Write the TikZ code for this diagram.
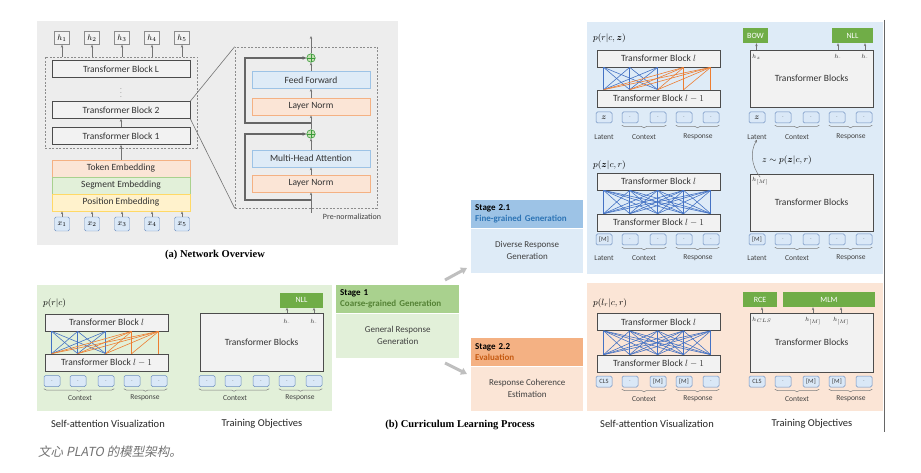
\documentclass[tikz,border=0pt]{standalone}
\usepackage{amsmath}
\usepackage{fontspec}
\setmainfont{Carlito}
\newfontfamily\capfont{Liberation Serif}
\newfontfamily\cjkfont[FakeSlant=0.2]{Noto Sans CJK SC}
\usetikzlibrary{positioning, calc, arrows.meta, decorations.pathreplacing}

\definecolor{panelgray}{HTML}{EDEDED}
\definecolor{panelgreen}{HTML}{E2F0D9}
\definecolor{panelblue}{HTML}{DEEBF7}
\definecolor{panelorange}{HTML}{FBE5D6}
\definecolor{headgreen}{HTML}{A9D18E}
\definecolor{headblue}{HTML}{9DC3E6}
\definecolor{headorange}{HTML}{F4B183}
\definecolor{txtgreen}{HTML}{548235}
\definecolor{txtblue}{HTML}{2E75B6}
\definecolor{txtorange}{HTML}{C55A11}
\definecolor{lossgreen}{HTML}{70AD47}
\definecolor{attblue}{HTML}{4472C4}
\definecolor{attorange}{HTML}{ED7D31}
\definecolor{tokfill}{HTML}{DAE8F7}
\definecolor{tokline}{HTML}{6C8EBF}
\definecolor{blockfill}{HTML}{F2F2F2}
\definecolor{posfill}{HTML}{FFF2CC}
\definecolor{posline}{HTML}{FFD966}
\definecolor{plusgreen}{HTML}{3A9A3A}
\definecolor{plusfill}{HTML}{C6E0B4}

\tikzset{
  block/.style={draw=black!70, fill=blockfill, line width=0.7pt, minimum width=123pt, minimum height=17pt, inner sep=0pt, text=black!80, font=\fontsize{9.5}{11}\selectfont},
  bigblock/.style={block, minimum width=138pt},
  objbox/.style={block, minimum height=57pt},
  emb/.style={line width=0.6pt, minimum width=138pt, minimum height=17pt, inner sep=0pt, text=black!80, font=\fontsize{9.5}{11}\selectfont},
  normbox/.style={emb, minimum width=118pt},
  hbox/.style={draw=black!45, fill=blockfill, minimum width=15pt, minimum height=13pt, inner sep=0pt, font=\fontsize{8}{8}\selectfont},
  xbox/.style={draw=tokline, fill=tokfill, rounded corners=1.5pt, minimum width=15pt, minimum height=14pt, inner sep=0pt, font=\fontsize{8}{8}\selectfont},
  tok/.style={draw=tokline, fill=tokfill, rounded corners=1.5pt, line width=0.5pt, minimum width=16pt, minimum height=11pt, inner sep=0pt, text=black!75, font=\fontsize{6.5}{7}\selectfont},
  loss/.style={fill=lossgreen, minimum height=15pt, inner sep=0pt, text=white, font=\fontsize{8}{9}\selectfont},
  hlab/.style={inner sep=0pt, text=black!80, font=\fontsize{6}{6}\selectfont},
  plab/.style={anchor=west, inner sep=0pt, font=\fontsize{9}{10}\selectfont},
  lbl/.style={inner sep=0pt, text=black!75, font=\fontsize{7.5}{8}\selectfont},
  coltitle/.style={inner sep=0pt, text=black!85, font=\fontsize{10.5}{12}\selectfont},
  captxt/.style={inner sep=0pt, font=\capfont\bfseries\fontsize{10.5}{12}\selectfont},
  arr/.style={->, draw=black!55, line width=0.5pt},
  attb/.style={draw=attblue, line width=0.6pt},
  atto/.style={draw=attorange, line width=0.6pt},
  brc/.style={draw=black!50, line width=0.5pt, decorate, decoration={brace, mirror, amplitude=2.5pt}},
  dashbox/.style={draw=black!45, dash pattern=on 2pt off 1.5pt, line width=0.6pt, inner sep=0pt},
  zoomline/.style={draw=black!55, line width=0.6pt},
  resid/.style={-{Stealth[length=4pt,width=3.5pt]}, draw=black!60, line width=1.1pt},
  plus/.style={circle, draw=plusgreen, fill=plusfill, line width=0.6pt, minimum size=8.5pt, inner sep=0pt,
    path picture={\draw[plusgreen, line width=0.6pt] (path picture bounding box.north) -- (path picture bounding box.south)
      (path picture bounding box.west) -- (path picture bounding box.east);}},
  stagehead/.style={anchor=north west, minimum height=28pt, inner xsep=4pt, inner ysep=0pt, align=left, font=\bfseries\fontsize{9}{11}\selectfont},
  stagebody/.style={minimum height=44pt, inner sep=0pt, align=center, text=black!75, font=\fontsize{9}{12}\selectfont},
  stagearrow/.style={-{Triangle[length=6pt,width=7pt]}, draw=black!25, line width=3pt},
}

\begin{document}
\begin{tikzpicture}[x=1pt, y=-1pt, >={Stealth[length=3pt,width=2.4pt]}]
    \fill[white] (0,0) rectangle (921,473);
    \useasboundingbox (0,0) rectangle (921,473);

    % (a) Network Overview
    \fill[panelgray] (37,21) rectangle (398,245);
    \node[dashbox, minimum width=152pt, minimum height=91pt] (stack) at (121,102.5) {};
    \node[bigblock] (tbL) at (121,69) {Transformer Block L};
    \node[inner sep=0pt, text=black!50, font=\fontsize{7}{7}\selectfont] (dots) at (121,90) {$\vdots$};
    \node[bigblock] (tb2) at (121,110) {Transformer Block 2};
    \node[bigblock] (tb1) at (121,136) {Transformer Block 1};
    \draw[arr] (tb1) -- (tb2);
    \node[emb, fill=panelorange, draw=headorange] (tokemb) at (121,168.5) {Token Embedding};
    \node[emb, fill=panelgreen, draw=headgreen] (segemb) at (121,185.5) {Segment Embedding};
    \node[emb, fill=posfill, draw=posline] (posemb) at (121,202.5) {Position Embedding};
    \draw[arr] (tokemb) -- (tb1);
    \foreach \i in {1,...,5} {
        \node[hbox] (h\i) at (32+30*\i,38) {$h_{\i}$};
        \node[xbox] (x\i) at (32+30*\i,224) {$x_{\i}$};
        \draw[arr] (h\i |- stack.north) -- (h\i);
        \draw[arr] (x\i) -- (x\i |- posemb.south);
    }

    % pre-normalization block
    \node[dashbox, minimum width=142pt, minimum height=161pt] (pre) at (306,127.5) {};
    \draw[zoomline] (tb2.north east) -- (pre.north west);
    \draw[zoomline] (tb2.south east) -- (pre.south west);
    \node[normbox, fill=panelorange, draw=headorange] (ln1) at (311,183.5) {Layer Norm};
    \node[normbox, fill=panelblue, draw=headblue] (mha) at (311,158.5) {Multi-Head Attention};
    \node[plus] (add1) at (311,134) {};
    \node[normbox, fill=panelorange, draw=headorange] (ln2) at (311,106.5) {Layer Norm};
    \node[normbox, fill=panelblue, draw=headblue] (ffn) at (311,80) {Feed Forward};
    \node[plus] (add2) at (311,58) {};
    \coordinate (in) at (311,213);
    \coordinate (out) at (311,36);
    \coordinate (r1) at (311,200);
    \coordinate (r2) at (311,123);
    \draw[resid] (r1) -- ++(-66,0) |- (add1);
    \draw[resid] (r2) -- ++(-66,0) |- (add2);
    \draw[arr] (in) -- (ln1);
    \draw[arr] (ln1) -- (mha);
    \draw[arr] (mha) -- (add1);
    \draw[arr] (add1) -- (ln2);
    \draw[arr] (ln2) -- (ffn);
    \draw[arr] (ffn) -- (add2);
    \draw[arr] (add2) -- (out);
    \node[lbl, font=\fontsize{8}{9}\selectfont] (prelab) at (352,217) {Pre-normalization};
    \node[captxt] (capa) at (215,255) {(a) Network Overview};

    % (b) Curriculum Learning Process
    \node[stagehead, fill=headblue, text width=104pt] (s21h) at (471,200) {Stage 2.1\\\textcolor{txtblue}{Fine-grained Generation}};
    \node[stagebody, fill=panelblue, minimum width=112pt, below=0pt of s21h] (s21b) {Diverse Response\\Generation};
    \node[stagehead, fill=headgreen, text width=115pt] (s1h) at (336,285) {Stage 1\\\textcolor{txtgreen}{Coarse-grained Generation}};
    \node[stagebody, fill=panelgreen, minimum width=123pt, below=0pt of s1h] (s1b) {General Response\\Generation};
    \node[stagehead, fill=headorange, text width=104pt] (s22h) at (471,338) {Stage 2.2\\\textcolor{txtorange}{Evaluation}};
    \node[stagebody, fill=panelorange, minimum width=112pt, below=0pt of s22h] (s22b) {Response Coherence\\Estimation};
    \coordinate (u0) at (445,280);
    \coordinate (u1) at (467,268);
    \coordinate (d0) at (445,363);
    \coordinate (d1) at (467,374);
    \draw[stagearrow] (u0) -- (u1);
    \draw[stagearrow] (d0) -- (d1);
    \node[captxt] (capb) at (460,425) {(b) Curriculum Learning Process};

    % Stage 1 detail
    \fill[panelgreen] (37,285) rectangle (332,411);
    \node[plab] (gp) at (43,303) {$p(r|c)$};
    \node[block] (gal) at (106.5,322.5) {Transformer Block $l$};
    \node[block] (gam) at (106.5,362.5) {Transformer Block $l-1$};
    \foreach \i in {7,33,61} \foreach \j in {7,33,61}
        \draw[attb] ($(gam.north west)+(\j,0)$) -- ($(gal.south west)+(\i,0)$);
    \foreach \i in {87,114} \foreach \j in {7,33,61,87,114} {
        \ifnum\j>\i\relax\else
            \draw[atto] ($(gam.north west)+(\j,0)$) -- ($(gal.south west)+(\i,0)$);
        \fi}
    \foreach \o [count=\k] in {7,33,61,87,114}
        \node[tok] (ga\k) at (45+\o,381) {$\cdot$};
    \draw[brc] ([yshift=-2pt]ga1.south west) -- ([yshift=-2pt]ga3.south east);
    \draw[brc] ([yshift=-2pt]ga4.south west) -- ([yshift=-2pt]ga5.south east);
    \node[lbl] (gactx) at (80,398) {Context};
    \node[lbl] (garsp) at (145,398) {Response};

    \node[objbox, minimum height=58pt] (gbx) at (261.5,342) {Transformer Blocks};
    \node[loss, minimum width=43pt] (gnll) at (301.5,300) {NLL};
    \node[hlab] (gh1) at (287,322) {$h_{\cdot}$};
    \node[hlab] (gh2) at (314,322) {$h_{\cdot}$};
    \draw[arr] (gh1 |- gbx.north) -- (gh1 |- gnll.south);
    \draw[arr] (gh2 |- gbx.north) -- (gh2 |- gnll.south);
    \foreach \o [count=\k] in {7,33,61,87,114}
        \node[tok] (gb\k) at (200+\o,381) {$\cdot$};
    \draw[brc] ([yshift=-2pt]gb1.south west) -- ([yshift=-2pt]gb3.south east);
    \draw[brc] ([yshift=-2pt]gb4.south west) -- ([yshift=-2pt]gb5.south east);
    \node[lbl] (gbctx) at (235,398) {Context};
    \node[lbl] (gbrsp) at (300,398) {Response};
    \node[coltitle] (gsa) at (108,424) {Self-attention Visualization};
    \node[coltitle] (gto) at (262,424) {Training Objectives};

    % Stage 2.1 detail
    \fill[panelblue] (587,22) rectangle (883,274);
    \node[plab] (bp1) at (593,38) {$p(r|c,\boldsymbol{z})$};
    \node[block] (bal) at (658.5,58.5) {Transformer Block $l$};
    \node[block] (bam) at (658.5,98.5) {Transformer Block $l-1$};
    \foreach \i in {7,33,61} \foreach \j in {7,33,61}
        \draw[attb] ($(bam.north west)+(\j,0)$) -- ($(bal.south west)+(\i,0)$);
    \foreach \i in {87,114} \foreach \j in {7,33,61,87,114} {
        \ifnum\j>\i\relax\else
            \draw[atto] ($(bam.north west)+(\j,0)$) -- ($(bal.south west)+(\i,0)$);
        \fi}
    \foreach \o/\t [count=\k] in {7/{\fontsize{8}{8}\selectfont$\boldsymbol{z}$},33/$\cdot$,61/$\cdot$,87/$\cdot$,114/$\cdot$}
        \node[tok] (ba\k) at (597+\o,117.5) {\t};
    \draw[brc] ([yshift=-2pt]ba2.south west) -- ([yshift=-2pt]ba3.south east);
    \draw[brc] ([yshift=-2pt]ba4.south west) -- ([yshift=-2pt]ba5.south east);
    \node[lbl] (balat) at (604,137) {Latent};
    \node[lbl] (bactx) at (644,137) {Context};
    \node[lbl] (barsp) at (698,137) {Response};

    \node[objbox] (bbx) at (811.5,78.5) {Transformer Blocks};
    \node[loss, minimum width=25pt] (bow) at (755.5,35.5) {BOW};
    \node[loss, minimum width=41pt] (bnll) at (852.5,35.5) {NLL};
    \node[hlab, anchor=west] (bhz) at (752,57) {$h_{z}$};
    \node[hlab] (bh1) at (838,57) {$h_{\cdot}$};
    \node[hlab] (bh2) at (865,57) {$h_{\cdot}$};
    \draw[arr] (bhz |- bbx.north) -- (bhz |- bow.south);
    \draw[arr] (bh1 |- bbx.north) -- (bh1 |- bnll.south);
    \draw[arr] (bh2 |- bbx.north) -- (bh2 |- bnll.south);
    \foreach \o/\t [count=\k] in {7/{\fontsize{8}{8}\selectfont$\boldsymbol{z}$},33/$\cdot$,61/$\cdot$,87/$\cdot$,114/$\cdot$}
        \node[tok] (bb\k) at (750+\o,117.5) {\t};
    \draw[brc] ([yshift=-2pt]bb2.south west) -- ([yshift=-2pt]bb3.south east);
    \draw[brc] ([yshift=-2pt]bb4.south west) -- ([yshift=-2pt]bb5.south east);
    \node[lbl] (bblat) at (757,137) {Latent};
    \node[lbl] (bbctx) at (797,137) {Context};
    \node[lbl] (bbrsp) at (851,137) {Response};

    \node[plab] (bp2) at (593,165) {$p(\boldsymbol{z}|c,r)$};
    \node[block] (bcl) at (658.5,181.5) {Transformer Block $l$};
    \node[block] (bcm) at (658.5,222.5) {Transformer Block $l-1$};
    \foreach \i in {7,33,61,87,114} \foreach \j in {7,33,61,87,114}
        \draw[attb] ($(bcm.north west)+(\j,0)$) -- ($(bcl.south west)+(\i,0)$);
    \foreach \o/\t [count=\k] in {7/{[M]},33/$\cdot$,61/$\cdot$,87/$\cdot$,114/$\cdot$}
        \node[tok] (bc\k) at (597+\o,239.5) {\t};
    \draw[brc] ([yshift=-2pt]bc2.south west) -- ([yshift=-2pt]bc3.south east);
    \draw[brc] ([yshift=-2pt]bc4.south west) -- ([yshift=-2pt]bc5.south east);
    \node[lbl] (bclat) at (604,258) {Latent};
    \node[lbl] (bcctx) at (644,258) {Context};
    \node[lbl] (bcrsp) at (698,258) {Response};

    \node[objbox] (bdx) at (811.5,202.5) {Transformer Blocks};
    \node[hlab, anchor=west] (bhm) at (752,181) {$h_{[M]}$};
    \draw[arr] (bhm.north) .. controls +(-9,-12) and +(-7,12) .. (bblat.south);
    \node[anchor=west, inner sep=0pt, font=\fontsize{9}{10}\selectfont] (zs) at (762,160) {$z\sim p(\boldsymbol{z}|c,r)$};
    \foreach \o/\t [count=\k] in {7/{[M]},33/$\cdot$,61/$\cdot$,87/$\cdot$,114/$\cdot$}
        \node[tok] (bd\k) at (750+\o,239.5) {\t};
    \draw[brc] ([yshift=-2pt]bd2.south west) -- ([yshift=-2pt]bd3.south east);
    \draw[brc] ([yshift=-2pt]bd4.south west) -- ([yshift=-2pt]bd5.south east);
    \node[lbl] (bdlat) at (757,258) {Latent};
    \node[lbl] (bdctx) at (797,258) {Context};
    \node[lbl] (bdrsp) at (851,258) {Response};

    % Stage 2.2 detail
    \fill[panelorange] (587,283) rectangle (883,411);
    \node[plab] (op) at (593,303) {$p(l_r|c,r)$};
    \node[block] (oal) at (658.5,322) {Transformer Block $l$};
    \node[block] (oam) at (658.5,363.5) {Transformer Block $l-1$};
    \foreach \i in {7,33,61,87,114} \foreach \j in {7,33,61,87,114}
        \draw[attb] ($(oam.north west)+(\j,0)$) -- ($(oal.south west)+(\i,0)$);
    \foreach \o/\t [count=\k] in {7/CLS,33/$\cdot$,61/{[M]},87/{[M]},114/$\cdot$}
        \node[tok] (oa\k) at (597+\o,381.5) {\t};
    \draw[brc] ([yshift=-2pt]oa2.south west) -- ([yshift=-2pt]oa3.south east);
    \draw[brc] ([yshift=-2pt]oa4.south west) -- ([yshift=-2pt]oa5.south east);
    \node[lbl] (oactx) at (644,399) {Context};
    \node[lbl] (oarsp) at (698,399) {Response};

    \node[objbox, minimum height=59pt] (obx) at (811.5,342.5) {Transformer Blocks};
    \node[loss, minimum width=34pt] (rce) at (760,299.5) {RCE};
    \node[loss, minimum width=92pt] (mlm) at (829,299.5) {MLM};
    \node[hlab, anchor=west] (ohc) at (752,320) {$h_{CLS}$};
    \node[hlab] (ohm1) at (813,321) {$h_{[M]}$};
    \node[hlab] (ohm2) at (841,321) {$h_{[M]}$};
    \draw[arr] (ohc |- obx.north) -- (ohc |- rce.south);
    \draw[arr] (ohm1 |- obx.north) -- (ohm1 |- mlm.south);
    \draw[arr] (ohm2 |- obx.north) -- (ohm2 |- mlm.south);
    \foreach \o/\t [count=\k] in {7/CLS,33/$\cdot$,61/{[M]},87/{[M]},114/$\cdot$}
        \node[tok] (ob\k) at (750+\o,381.5) {\t};
    \draw[brc] ([yshift=-2pt]ob2.south west) -- ([yshift=-2pt]ob3.south east);
    \draw[brc] ([yshift=-2pt]ob4.south west) -- ([yshift=-2pt]ob5.south east);
    \node[lbl] (obctx) at (797,399) {Context};
    \node[lbl] (obrsp) at (851,399) {Response};
    \node[coltitle] (osa) at (657,424) {Self-attention Visualization};
    \node[coltitle] (oto) at (812,424) {Training Objectives};

    \draw[black!60, line width=0.7pt] (884,20) -- (884,432);

    \node[anchor=west, inner sep=0pt, text=black!55, font=\cjkfont\fontsize{12.5}{14}\selectfont] (note) at (38,452) {文心 PLATO 的模型架构。};
\end{tikzpicture}
\end{document}
